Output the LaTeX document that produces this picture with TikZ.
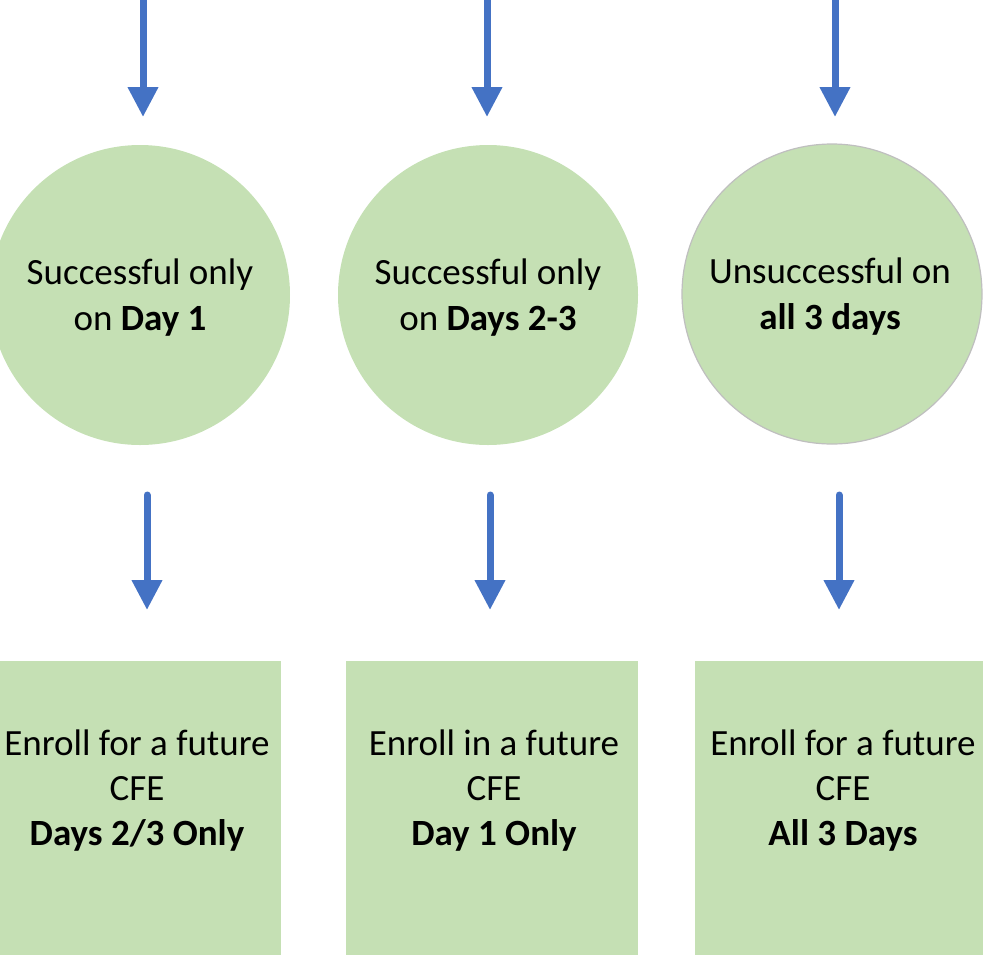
\documentclass[tikz,border=0pt]{standalone}
\usepackage{fontspec}
\setmainfont{Carlito}
\usetikzlibrary{arrows.meta}
\definecolor{fillgreen}{HTML}{C5E0B4}
\definecolor{arrowblue}{HTML}{4472C4}
\definecolor{rimgray}{HTML}{BFBFBF}
\begin{document}
\begin{tikzpicture}[x=1pt,y=-1pt,
  circ/.style={circle,fill=fillgreen,minimum size=300pt,inner sep=0pt},
  circtext/.style={align=center,font=\fontsize{37}{46}\selectfont,inner sep=0pt},
  boxnode/.style={rectangle,fill=fillgreen,inner sep=0pt},
  boxtext/.style={align=center,font=\fontsize{37}{45}\selectfont,inner sep=0pt},
  arr/.style={draw=arrowblue,line width=7pt,line cap=round,
    -{Triangle[width=29pt,length=30pt]},arrowblue}]
\useasboundingbox (0,0) rectangle (983,954);
% circles
\node[circ] (c1) at (140,295) {};
\node[circ] (c2) at (488,295) {};
\node[circ,draw=rimgray,line width=1.2pt] (c3) at (832,294) {};
\node[circtext] (ct1) at (140,298) {Successful only\\on \textbf{Day 1}};
\node[circtext] (ct2) at (488,298) {Successful only\\on \textbf{Days 2-3}};
\node[circtext] (ct3) at (830,297) {Unsuccessful on\\\textbf{all 3 days}};
% boxes
\node[boxnode,minimum width=281pt,minimum height=300pt,anchor=north west] (b1) at (0,661) {};
\node[boxnode,minimum width=292pt,minimum height=300pt,anchor=north west] (b2) at (346,661) {};
\node[boxnode,minimum width=290pt,minimum height=300pt,anchor=north west] (b3) at (695,661) {};
\node[boxtext] (bt1) at (137,791) {Enroll for a future\\CFE\\\textbf{Days 2/3 Only}};
\node[boxtext] (bt2) at (494,791) {Enroll in a future\\CFE\\\textbf{Day 1 Only}};
\node[boxtext] (bt3) at (843,791) {Enroll for a future\\CFE\\\textbf{All 3 Days}};
% arrow coordinates
\coordinate (ta1) at (143,-5);  \coordinate (th1) at (143,117);
\coordinate (ta2) at (487,-5);  \coordinate (th2) at (487,117);
\coordinate (ta3) at (835,-5);  \coordinate (th3) at (835,117);
\coordinate (ba1) at (147,495); \coordinate (bh1) at (147,610);
\coordinate (ba2) at (490,495); \coordinate (bh2) at (490,610);
\coordinate (ba3) at (839,495); \coordinate (bh3) at (839,610);
\draw[arr] (ta1) -- (th1);
\draw[arr] (ta2) -- (th2);
\draw[arr] (ta3) -- (th3);
\draw[arr] (ba1) -- (bh1);
\draw[arr] (ba2) -- (bh2);
\draw[arr] (ba3) -- (bh3);
\end{tikzpicture}
\end{document}
